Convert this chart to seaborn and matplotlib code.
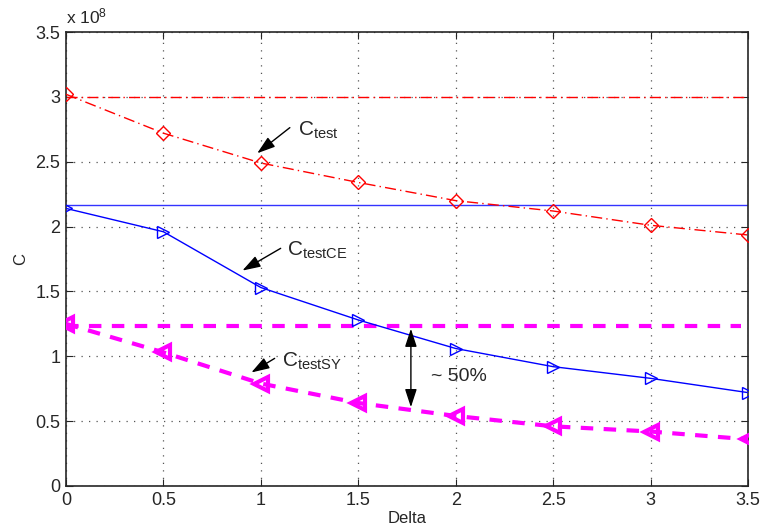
import numpy as np
import pandas as pd
import matplotlib
matplotlib.use("Agg")
import matplotlib.pyplot as plt
import seaborn as sns

# ---- data (values in units of 1e8) ----
delta = [0, 0.5, 1.0, 1.5, 2.0, 2.5, 3.0, 3.5]
c_test = [3.02, 2.72, 2.49, 2.34, 2.20, 2.12, 2.01, 1.935]
c_test_ce = [2.14, 1.96, 1.53, 1.28, 1.06, 0.92, 0.83, 0.72]
c_test_sy = [1.25, 1.03, 0.79, 0.64, 0.54, 0.46, 0.42, 0.36]
ref_test = 3.0
ref_ce = 2.167
ref_sy = 1.234
xticks = [0, 0.5, 1, 1.5, 2, 2.5, 3, 3.5]
yticks = [0, 0.5, 1, 1.5, 2, 2.5, 3, 3.5]

sns.set_style("ticks")
plt.rcParams['font.family'] = ['Liberation Sans', 'DejaVu Sans']
plt.rcParams['mathtext.fontset'] = 'custom'
plt.rcParams['mathtext.rm'] = 'Liberation Sans'
plt.rcParams['mathtext.it'] = 'Liberation Sans'

fig = plt.figure(figsize=(7.6, 5.29), dpi=100)
ax = fig.add_axes([66/760, 1-486/529, (748-66)/760, (486-32)/529])

df = pd.DataFrame({"delta": delta, "test": c_test, "ce": c_test_ce, "sy": c_test_sy})

# reference horizontal lines
ax.axhline(ref_test, color='red', lw=1.0, ls=(0, (8, 3, 1, 3)), zorder=2)
ax.axhline(ref_ce, color='#3333ff', lw=1.0, ls='-', zorder=2)
ax.axhline(ref_sy, color='magenta', lw=3.0, ls=(0, (3, 2.5)), xmax=0.99, zorder=2)

sns.lineplot(data=df, x="delta", y="test", ax=ax, color='red', lw=1.0,
             marker='D', markersize=7, markerfacecolor='none', markeredgecolor='red',
             markeredgewidth=1.0, zorder=3)
ax.lines[-1].set_linestyle((0, (8, 3, 1, 3)))
sns.lineplot(data=df, x="delta", y="ce", ax=ax, color='blue', lw=1.0,
             marker='>', markersize=9, markerfacecolor='none', markeredgecolor='blue',
             markeredgewidth=1.0, zorder=3)
sns.lineplot(data=df, x="delta", y="sy", ax=ax, color='magenta', lw=3.0,
             marker='<', markersize=10, markerfacecolor='none', markeredgecolor='magenta',
             markeredgewidth=3.0, zorder=3)
ax.lines[-1].set_linestyle((0, (3, 2.5)))

ax.set_xlim(0, 3.5)
ax.set_ylim(0, 3.5)
ax.set_xticks(xticks)
ax.set_yticks(yticks)
ax.set_xticklabels([f"{t:g}" for t in xticks])
ax.set_yticklabels([f"{t:g}" for t in yticks])
ax.grid(True, color='#555555', ls=(0, (1, 5)), lw=0.9)
ax.tick_params(direction='in', top=True, right=True, labelsize=13, length=5, pad=4)
for s in ax.spines.values():
    s.set_visible(True)
    s.set_linewidth(1.2)
ax.set_xlabel("Delta", fontsize=12, labelpad=2)
ax.set_ylabel("C", fontsize=12, labelpad=5)

ax.text(0.0, 1.012, r"x 10$^{8}$", transform=ax.transAxes, fontsize=12.5, ha='left', va='bottom')

ap = dict(arrowstyle='-|>,head_length=0.55,head_width=0.18', color='black', lw=1.0, mutation_scale=20)
ax.annotate("", xy=(0.97, 2.552), xytext=(1.16, 2.776), arrowprops=ap)
ax.text(1.19, 2.74, r"C$_{\mathrm{test}}$", fontsize=15, ha='left', va='center')
ax.annotate("", xy=(0.893, 1.65), xytext=(1.114, 1.843), arrowprops=ap)
ax.text(1.135, 1.82, r"C$_{\mathrm{testCE}}$", fontsize=15, ha='left', va='center')
ax.annotate("", xy=(0.939, 0.864), xytext=(1.083, 0.995), arrowprops=ap)
ax.text(1.11, 0.96, r"C$_{\mathrm{testSY}}$", fontsize=15, ha='left', va='center')
ax.annotate("", xy=(1.77, 0.586), xytext=(1.77, ref_sy),
            arrowprops=dict(arrowstyle='<|-|>,head_length=0.55,head_width=0.18',
                            color='black', lw=1.0, mutation_scale=20))
ax.text(1.875, 0.848, "~ 50%", fontsize=14, ha='left', va='center')

fig.savefig("out.png", dpi=100)
